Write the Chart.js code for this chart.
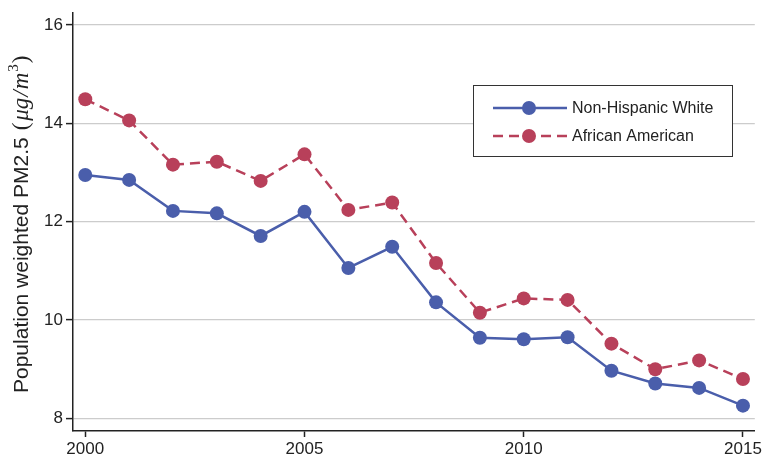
<!DOCTYPE html>
<html lang="en">
<head>
<meta charset="UTF-8">
<title>Population weighted PM2.5</title>
<script src="https://cdn.jsdelivr.net/npm/chart.js"></script>
<style>
  html, body { margin: 0; padding: 0; background: #fff; }
  .chart-box { position: relative; width: 764px; height: 457px; }
</style>
</head>
<body>
<div class="chart-box"><canvas id="pmChart" width="764" height="457"></canvas></div>
<script>
// values
const years = [2000, 2001, 2002, 2003, 2004, 2005, 2006, 2007, 2008, 2009, 2010, 2011, 2012, 2013, 2014, 2015];
const whiteValues = [12.95, 12.85, 12.22, 12.17, 11.71, 12.20, 11.06, 11.49, 10.36, 9.64, 9.61, 9.65, 8.97, 8.71, 8.62, 8.26];
const blackValues = [14.49, 14.06, 13.16, 13.22, 12.83, 13.37, 12.24, 12.39, 11.16, 10.15, 10.44, 10.41, 9.52, 9.00, 9.18, 8.80];
const seriesNames = ['Non-Hispanic White', 'African American'];
const yTicks = [8, 10, 12, 14, 16];
const xTicks = [2000, 2005, 2010, 2015];

const blue = '#4A5EAB';
const red = '#B8405A';
const ink = '#222222';
const sans = '"Liberation Sans", Arial, Helvetica, sans-serif';
const serif = '"Liberation Serif", "DejaVu Serif", serif';

function toPoints(vals) {
    return years.map((yr, i) => ({ x: yr, y: vals[i] }));
}

// y axis title with the italic unit part
const yTitlePlugin = {
    id: 'yTitle',
    afterDraw(chart) {
        const ctx = chart.ctx;
        ctx.save();
        ctx.translate(22, 393);
        ctx.rotate(-Math.PI / 2);
        ctx.fillStyle = ink;
        ctx.textBaseline = 'middle';
        ctx.textAlign = 'left';
        let x = 0;
        const parts = [
            { t: 'Population weighted PM2.5', f: '21px ' + sans, dy: 0, gap: 7 },
            { t: '(', f: '23px ' + serif, dy: 0, gap: 2 },
            { t: 'μg', f: 'italic 23px ' + serif, dy: 0, gap: 1 },
            { t: '/', f: 'italic 23px ' + serif, dy: 0, gap: 1 },
            { t: 'm', f: 'italic 23px ' + serif, dy: 0, gap: 1 },
            { t: '3', f: '15px ' + serif, dy: -8, gap: 1 },
            { t: ')', f: '23px ' + serif, dy: 0, gap: 0 }
        ];
        parts.forEach(p => {
            ctx.font = p.f;
            ctx.fillText(p.t, x, p.dy);
            x += ctx.measureText(p.t).width + p.gap;
        });
        ctx.restore();
    }
};

// boxed legend inside the plot
const boxLegendPlugin = {
    id: 'boxLegend',
    afterDraw(chart) {
        const ctx = chart.ctx;
        ctx.save();
        ctx.fillStyle = '#fff';
        ctx.fillRect(473, 85, 259, 72);
        ctx.strokeStyle = '#333';
        ctx.lineWidth = 1;
        ctx.strokeRect(473.5, 85.5, 259, 71);
        const rows = [108, 136];
        chart.data.datasets.forEach((ds, i) => {
            const y = rows[i];
            ctx.strokeStyle = ds.borderColor;
            ctx.lineWidth = ds.borderWidth;
            ctx.setLineDash(ds.borderDash || []);
            ctx.beginPath();
            ctx.moveTo(493, y);
            ctx.lineTo(567, y);
            ctx.stroke();
            ctx.setLineDash([]);
            ctx.fillStyle = ds.pointBackgroundColor;
            ctx.beginPath();
            ctx.arc(529, y, ds.pointRadius, 0, Math.PI * 2);
            ctx.fill();
            ctx.fillStyle = ink;
            ctx.font = '16px ' + sans;
            ctx.textBaseline = 'middle';
            ctx.fillText(ds.label, 572, y + 1);
        });
        ctx.restore();
    }
};

const ctxPm = document.getElementById('pmChart').getContext('2d');
const pmChart = new Chart(ctxPm, {
    type: 'line',
    data: {
        datasets: [{
            label: seriesNames[0],
            data: toPoints(whiteValues),
            borderColor: blue,
            backgroundColor: blue,
            pointBackgroundColor: blue,
            pointBorderWidth: 0,
            pointRadius: 7,
            borderWidth: 2.5,
            tension: 0
        },
        {
            label: seriesNames[1],
            data: toPoints(blackValues),
            borderColor: red,
            backgroundColor: red,
            pointBackgroundColor: red,
            pointBorderWidth: 0,
            pointRadius: 7,
            borderWidth: 2.5,
            borderDash: [10, 6],
            tension: 0
        }]
    },
    options: {
        responsive: false,
        animation: false,
        devicePixelRatio: 1,
        layout: { padding: { top: 10, right: 6, left: 0, bottom: 0 } },
        plugins: {
            legend: { display: false },
            tooltip: { enabled: false }
        },
        scales: {
            x: {
                type: 'linear',
                min: 1999.72,
                max: 2015.27,
                afterBuildTicks: s => { s.ticks = xTicks.map(v => ({ value: v })); },
                afterFit: s => { s.height = 26; },
                border: { color: ink, width: 1.5 },
                grid: { drawOnChartArea: false, tickLength: 6, tickColor: ink, tickWidth: 1.5 },
                ticks: {
                    color: ink,
                    padding: 2,
                    maxRotation: 0,
                    font: { family: sans, size: 17 },
                    callback: v => String(v)
                }
            },
            y: {
                min: 7.744,
                max: 16.24,
                afterBuildTicks: s => { s.ticks = yTicks.map(v => ({ value: v })); },
                afterFit: s => { s.width = 73; },
                border: { color: ink, width: 1.5 },
                grid: { color: '#cccccc', lineWidth: 1.2, tickLength: 7, tickColor: ink, tickWidth: 1.5 },
                ticks: {
                    color: ink,
                    padding: 3,
                    font: { family: sans, size: 17 },
                    callback: v => String(v)
                }
            }
        }
    },
    plugins: [yTitlePlugin, boxLegendPlugin]
});
</script>
</body>
</html>
